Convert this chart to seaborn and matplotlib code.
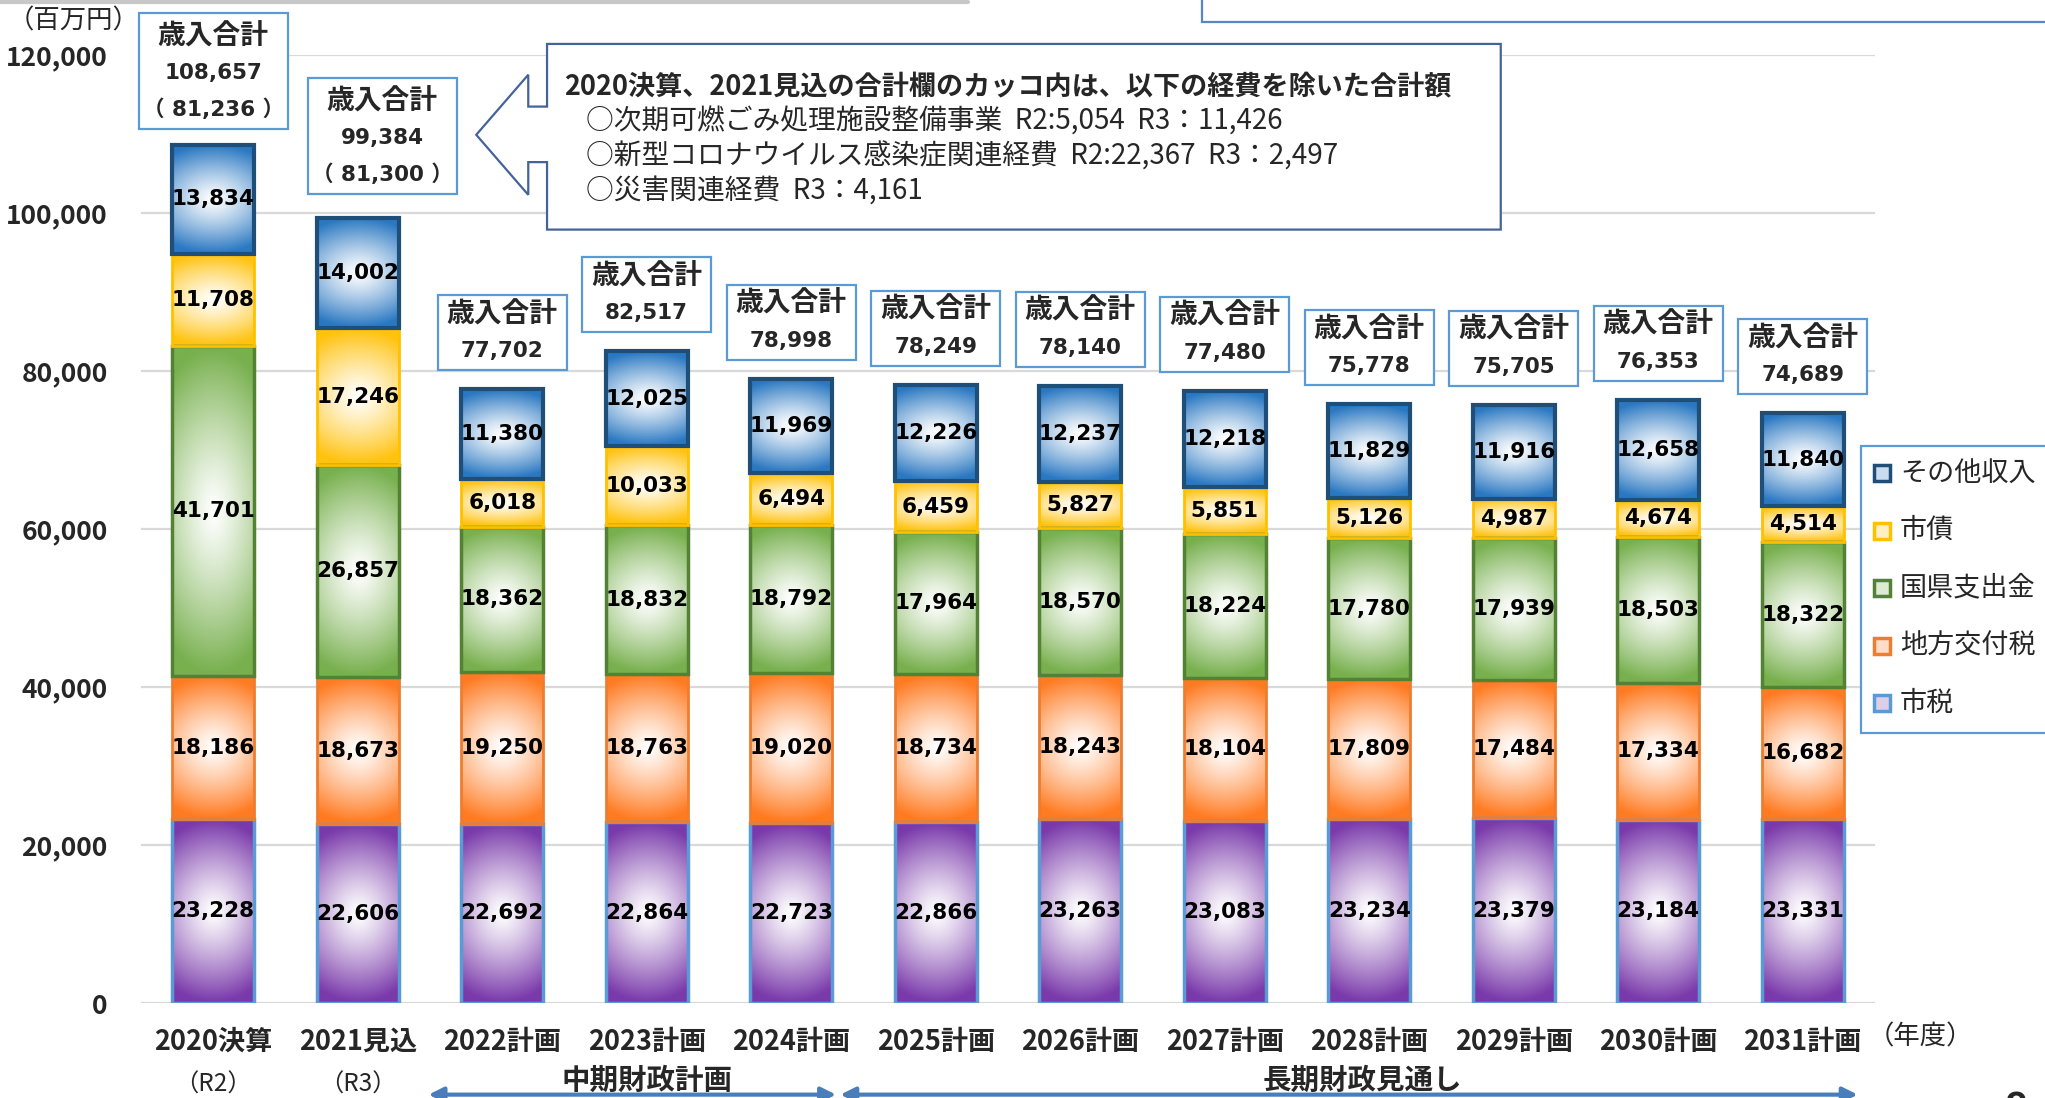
import numpy as np
import pandas as pd
import matplotlib.pyplot as plt
import seaborn as sns
from matplotlib.patches import Rectangle, Polygon
from matplotlib.colors import to_rgb

years = ['2020決算', '2021見込', '2022計画', '2023計画', '2024計画', '2025計画',
         '2026計画', '2027計画', '2028計画', '2029計画', '2030計画', '2031計画']
shizei = [23228, 22606, 22692, 22864, 22723, 22866, 23263, 23083, 23234, 23379, 23184, 23331]
chiho_kofuzei = [18186, 18673, 19250, 18763, 19020, 18734, 18243, 18104, 17809, 17484, 17334, 16682]
kokken = [41701, 26857, 18362, 18832, 18792, 17964, 18570, 18224, 17780, 17939, 18503, 18322]
shisai = [11708, 17246, 6018, 10033, 6494, 6459, 5827, 5851, 5126, 4987, 4674, 4514]
sonota = [13834, 14002, 11380, 12025, 11969, 12226, 12237, 12218, 11829, 11916, 12658, 11840]
totals = [108657, 99384, 77702, 82517, 78998, 78249, 78140, 77480, 75778, 75705, 76353, 74689]
totals_excl = [81236, 81300]
sub_years = ['（R2）', '（R3）']
items = ['その他収入', '市債', '国県支出金', '地方交付税', '市税']
series = {'その他収入': sonota, '市債': shisai, '国県支出金': kokken,
          '地方交付税': chiho_kofuzei, '市税': shizei}
yticks = [0, 20000, 40000, 60000, 80000, 100000, 120000]

note_title = '2020決算、2021見込の合計欄のカッコ内は、以下の経費を除いた合計額'
note_lines = ['○次期可燃ごみ処理施設整備事業  R2:5,054  R3：11,426',
              '○新型コロナウイルス感染症関連経費  R2:22,367  R3：2,497',
              '○災害関連経費  R3：4,161']

fill_colors = {'その他収入': '#2A78C2', '市債': '#FFC20E', '国県支出金': '#78B04E',
               '地方交付税': '#FF7B22', '市税': '#7A3AAB'}
edge_colors = {'その他収入': '#1F4E79', '市債': '#FFC000', '国県支出金': '#548235',
               '地方交付税': '#ED7D31', '市税': '#5B9BD5'}
edge_widths = {'その他収入': 3, '市債': 2, '国県支出金': 2.5, '地方交付税': 2, '市税': 2.5}

sns.set_theme(style='white')
plt.rcParams['font.family'] = ['Noto Sans CJK JP', 'DejaVu Sans']
NUM = ['DejaVu Sans', 'Noto Sans CJK JP']
W, H = 2045, 1098


def fx(px):
    return px / W


def fy(py):
    return 1 - py / H


def gradient(color, n=64):
    yy, xx = np.mgrid[-1:1:n * 1j, -1:1:n * 1j]
    d = np.clip(np.sqrt((0.55 * xx) ** 2 + yy ** 2), 0, 1) ** 1.2
    rgb = np.array(to_rgb(color))
    return 1 - d[..., None] * (1 - rgb)


fig = plt.figure(figsize=(W / 100, H / 100), dpi=100)
ax = fig.add_axes([fx(141), fy(1003), fx(1875) - fx(141), fy(55) - fy(1003)])

df = pd.DataFrame({
    '年度': np.tile(years, len(items)),
    '項目': np.repeat(items, len(years)),
    '金額': np.concatenate([series[k] for k in items]),
})
sns.histplot(data=df, x='年度', weights='金額', hue='項目', hue_order=items,
             multiple='stack', discrete=True, shrink=0.57, palette=fill_colors,
             alpha=1, linewidth=0, legend=False, ax=ax)

# gradient fill, border and value for every stacked segment
for p in list(ax.patches):
    x, y, w, h = p.get_x(), p.get_y(), p.get_width(), p.get_height()
    if h <= 0:
        continue
    i = int(round(x + w / 2))
    key = min(items, key=lambda k: abs(series[k][i] - h))
    level = len(items) - 1 - items.index(key)
    im = ax.imshow(gradient(fill_colors[key]), extent=[x, x + w, y, y + h], aspect='auto',
                   origin='lower', interpolation='bilinear', zorder=2)
    im.set_clip_path(p)
    ax.add_patch(Rectangle((x, y), w, h, fill=False, edgecolor=edge_colors[key],
                           lw=edge_widths[key], zorder=3 + level * 0.01))
    ax.text(x + w / 2, y + h / 2, f'{series[key][i]:,}', ha='center', va='center',
            fontsize=15.5, fontweight='bold', family=NUM, color='black', zorder=5)

# total boxes above bars
for i, t in enumerate(totals):
    if i < 2:
        bw, bh = 1.03, 14750
        bottom = t + (1950 if i == 0 else 3000)
        cx = i + (0.17 if i == 1 else 0)
        lines = [('歳入合計', bottom + 11700, 'cjk'), (f'{t:,}', bottom + 7100, 'num'),
                 (f'（ {totals_excl[i]:,} ）', bottom + 2500, 'num')]
    else:
        bw, bh = 0.89, 9500
        bottom = t + 2400
        cx = i
        lines = [('歳入合計', bottom + 7080, 'cjk'), (f'{t:,}', bottom + 2400, 'num')]
    ax.add_patch(Rectangle((cx - bw / 2, bottom), bw, bh, facecolor='white',
                           edgecolor='#5B9BD5', lw=1.6, zorder=4, clip_on=False))
    for txt, ty, kind in lines:
        if kind == 'cjk':
            ax.text(cx, ty, txt, ha='center', va='center', fontsize=20, fontweight='bold',
                    zorder=5, clip_on=False)
        else:
            ax.text(cx, ty, txt, ha='center', va='center', fontsize=15.5, fontweight='bold',
                    family=NUM, zorder=5, clip_on=False)

# callout note
callout = Polygon([(2.31, 121400), (8.91, 121400), (8.91, 97900), (2.31, 97900),
                   (2.31, 106440), (2.18, 106440), (2.18, 102300), (1.82, 109900),
                   (2.18, 117500), (2.18, 113470), (2.31, 113470)], closed=True,
                  facecolor='white', edgecolor='#44639B', lw=1.6, zorder=4, clip_on=False)
ax.add_patch(callout)
ax.text(2.43, 115980, note_title, ha='left', va='center', fontsize=19.5,
        fontweight='bold', zorder=5)
for k, line in enumerate(note_lines):
    ax.text(2.58, 111560 - k * 4420, line, ha='left', va='center', fontsize=20, zorder=5)

# axes styling
ax.set_xlim(-0.5, 11.5)
ax.set_ylim(0, 120000)
ax.set_xticks(range(len(years)))
ax.set_xticklabels(years)
ax.set_yticks(yticks)
ax.set_yticklabels([f'{v:,}' for v in yticks])
ax.set_xlabel('')
ax.set_ylabel('')
ax.tick_params(axis='x', length=0, pad=18, labelsize=19.5)
ax.tick_params(axis='y', length=0, pad=24, labelsize=19)
for lbl in ax.get_xticklabels() + ax.get_yticklabels():
    lbl.set_fontweight('bold')
ax.yaxis.grid(True, color='#D9D9D9', lw=1.6)
ax.set_axisbelow(True)
sns.despine(ax=ax, left=True, bottom=True)

for i, s in enumerate(sub_years):
    ax.text(i, -10400, s, ha='center', va='center', fontsize=17.5, clip_on=False)
ax.text(3, -9800, '中期財政計画', ha='center', va='center', fontsize=20.5,
        fontweight='bold', clip_on=False)
ax.text(7.95, -9800, '長期財政見通し', ha='center', va='center', fontsize=20.5,
        fontweight='bold', clip_on=False)
for a, b in [(1.49, 4.31), (4.34, 11.38)]:
    ax.annotate('', xy=(b, -11600), xytext=(a, -11600), annotation_clip=False,
                arrowprops=dict(arrowstyle='<|-|>', color='#4A7EBB', lw=3,
                                mutation_scale=22, shrinkA=0, shrinkB=0))

# outside texts
fig.text(fx(74), fy(21), '（百万円）', ha='center', va='center', fontsize=19)
fig.text(fx(1920), fy(1037), '（年度）', ha='center', va='center', fontsize=19)
fig.text(fx(2016), fy(1090), '8', ha='center', va='top', fontsize=30, fontweight='bold')

# legend, cut at the right edge as in the slide
fig.patches.append(Rectangle((fx(1861), fy(733)), fx(2070) - fx(1861), fy(446) - fy(733),
                             transform=fig.transFigure, facecolor='white',
                             edgecolor='#5B9BD5', lw=1.6, zorder=6))
for k, key in enumerate(items):
    yc = 473 + k * 57.5
    light = 1 - 0.25 * (1 - np.array(to_rgb(fill_colors[key])))
    fig.patches.append(Rectangle((fx(1874), fy(yc + 8)), fx(16), 16 / H,
                                 transform=fig.transFigure, facecolor=light,
                                 edgecolor=edge_colors[key], lw=2.5, zorder=7))
    fig.text(fx(1900), fy(yc), key, ha='left', va='center', fontsize=19.5, zorder=8)

# slide fragments at the top
fig.add_artist(plt.Line2D([0, fx(968)], [fy(2), fy(2)], color='#C8C8C8', lw=3,
                          transform=fig.transFigure))
fig.patches.append(Rectangle((fx(1202), fy(22)), fx(2070) - fx(1202), 40 / H,
                             transform=fig.transFigure, facecolor='white',
                             edgecolor='#5A86C5', lw=1.6))

fig.savefig('out.png', dpi=100)
